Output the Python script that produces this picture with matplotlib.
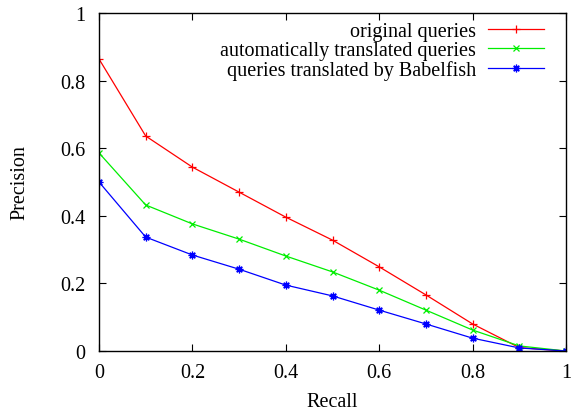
import matplotlib
matplotlib.use("Agg")
from matplotlib import pyplot as plt

plt.rcParams['font.family'] = ['Liberation Serif', 'DejaVu Serif']

recall = [0, 0.1, 0.2, 0.3, 0.4, 0.5, 0.6, 0.7, 0.8, 0.9, 1.0]
original = [0.864, 0.636, 0.544, 0.470, 0.396, 0.328, 0.249, 0.166, 0.080, 0.010, 0.0]
automatic = [0.586, 0.432, 0.376, 0.331, 0.281, 0.234, 0.180, 0.121, 0.062, 0.015, 0.0]
babelfish = [0.500, 0.337, 0.284, 0.242, 0.195, 0.163, 0.121, 0.080, 0.038, 0.009, 0.0]
names = ['original queries', 'automatically translated queries',
         'queries translated by Babelfish']

fig = plt.figure(figsize=(5.72, 4.14), dpi=100)
ax = fig.add_axes([99 / 572, 62 / 414, 467 / 572, 338 / 414])

ax.plot(recall, original, color='#ff0000', marker='+', ms=5.5, mew=0.9, lw=0.9, label=names[0])
ax.plot(recall, automatic, color='#00ee00', marker='x', ms=4.5, mew=0.9, lw=0.9, label=names[1])
ax.plot(recall, babelfish, color='#0000ff', marker=(8, 2, 0), ms=5.5, mew=0.9, lw=0.9, label=names[2])

ax.set_xlim(0, 1)
ax.set_ylim(0, 1)
ticks = [0, 0.2, 0.4, 0.6, 0.8, 1]
ax.set_xticks(ticks)
ax.set_yticks(ticks)
ax.set_xticklabels(['%g' % t for t in ticks])
ax.set_yticklabels(['%g' % t for t in ticks])
ax.tick_params(direction='in', top=True, right=True, length=5, width=0.8,
               labelsize=14.5)
ax.tick_params(axis='x', pad=9)
ax.tick_params(axis='y', pad=10)
for s in ax.spines.values():
    s.set_linewidth(1.0)

ax.set_xlabel('Recall', fontsize=14.5, labelpad=7)
ax.set_ylabel('Precision', fontsize=14.5, labelpad=22)

leg = ax.legend(loc='upper right', frameon=False, markerfirst=False, fontsize=14.5,
                handlelength=2.8, labelspacing=0.0, borderaxespad=0.0,
                handletextpad=0.6, bbox_to_anchor=(0.971, 0.998))
for t in leg.get_texts():
    t.set_ha('right')
leg._legend_box.align = 'right'

fig.savefig('out.png', dpi=100)
